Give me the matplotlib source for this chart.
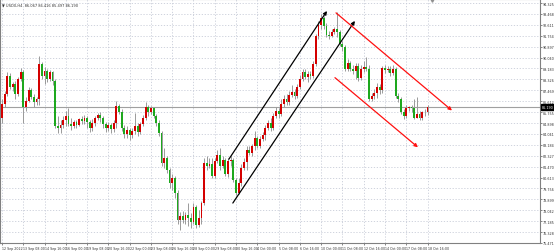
import matplotlib
matplotlib.use("Agg")
import matplotlib.pyplot as plt

# H4 candles, prices
closes = [86.43, 87.21, 88.62, 87.76, 87.99, 87.21, 88.38, 88.93, 86.19, 86.66,
          87.52, 86.98, 86.51, 86.82, 89.56, 88.62, 89.01, 88.38, 88.93, 88.23,
          84.63, 84.47, 84.71, 85.10, 85.41, 84.79, 84.63, 84.94, 84.71, 85.18,
          85.02, 85.26, 84.94, 84.47, 84.87, 85.26, 85.49, 85.26, 84.79, 84.47,
          84.71, 84.40, 84.87, 86.27, 85.80, 84.47, 84.00, 84.32, 83.92, 84.24,
          84.63, 84.16, 84.79, 85.26, 86.19, 85.73, 86.04, 85.41, 84.87, 84.08,
          81.74, 82.13, 81.19, 80.17, 80.56, 79.39, 77.28, 77.59, 77.28, 77.67,
          77.44, 77.12, 78.30, 76.89, 77.44, 78.61, 81.74, 81.51, 81.66, 80.72,
          81.90, 82.37, 81.51, 81.98, 80.87, 81.90, 81.98, 80.41, 79.39, 80.17,
          81.35, 81.82, 82.76, 82.52, 83.06, 83.69, 83.06, 83.61, 83.92, 84.47,
          84.87, 84.47, 85.41, 85.88, 85.57, 86.43, 86.82, 86.51, 87.13, 87.37,
          87.05, 87.76, 88.38, 88.93, 88.54, 88.77, 88.62, 89.56, 91.75, 92.61,
          93.16, 92.53, 91.82, 91.75, 92.06, 92.29, 92.06, 91.12, 90.89, 89.17,
          89.64, 89.17, 89.01, 89.40, 88.46, 89.17, 89.32, 89.17, 86.82, 87.05,
          87.29, 87.76, 87.52, 89.25, 89.09, 89.17, 88.85, 89.17, 87.05, 86.82,
          85.73, 85.41, 86.04, 86.12, 86.04, 85.33, 85.57, 85.26, 85.73, 85.80,
          86.19]
highs = [86.82, 87.45, 88.93, 88.85, 88.15, 88.23, 88.54, 89.25, 89.09, 86.98,
         87.76, 87.68, 87.21, 86.98, 90.18, 89.72, 89.32, 89.17, 89.09, 89.01,
         88.38, 85.41, 85.10, 85.41, 85.88, 86.04, 85.26, 85.10, 85.10, 85.33,
         85.41, 85.49, 85.41, 85.10, 85.18, 85.41, 85.65, 85.73, 85.41, 84.94,
         84.94, 84.87, 85.10, 86.59, 86.43, 85.96, 84.71, 84.63, 84.47, 84.47,
         85.65, 84.87, 84.94, 85.49, 86.51, 86.35, 86.27, 86.19, 85.57, 85.10,
         84.24, 82.91, 82.29, 81.35, 80.87, 80.72, 79.62, 77.91, 77.99, 77.91,
         78.61, 77.83, 78.61, 78.46, 78.07, 78.77, 82.13, 82.29, 82.13, 82.13,
         82.13, 82.76, 82.91, 82.29, 82.13, 82.13, 82.29, 82.13, 80.56, 80.56,
         81.66, 82.13, 83.06, 83.06, 83.22, 84.24, 83.84, 83.84, 84.16, 84.71,
         85.10, 85.26, 85.65, 86.19, 86.04, 86.82, 87.13, 87.21, 87.45, 87.91,
         87.60, 87.99, 88.70, 89.17, 89.17, 89.01, 89.01, 89.79, 91.90, 92.92,
         93.47, 93.31, 92.76, 92.14, 92.29, 92.45, 93.62, 92.22, 91.36, 91.04,
         89.95, 89.79, 89.48, 89.64, 89.64, 89.48, 89.79, 90.10, 89.48, 87.29,
         87.60, 88.07, 87.99, 89.40, 89.48, 89.40, 89.40, 89.48, 89.32, 87.29,
         86.98, 85.96, 86.35, 86.27, 86.35, 86.82, 86.98, 85.88, 85.88, 85.96,
         86.35]
lows = [84.87, 86.19, 87.05, 87.60, 87.45, 86.82, 87.05, 88.23, 84.87, 85.88,
        86.51, 86.82, 86.19, 86.35, 86.35, 88.38, 87.99, 88.15, 88.23, 87.91,
        84.47, 84.08, 84.08, 84.47, 84.63, 84.63, 84.32, 84.47, 84.47, 84.63,
        84.79, 84.79, 84.47, 84.16, 84.24, 84.63, 85.10, 84.94, 84.47, 84.16,
        84.24, 84.08, 84.16, 84.47, 85.57, 84.24, 83.69, 83.69, 83.53, 83.69,
        84.00, 83.84, 84.00, 84.63, 85.10, 85.41, 85.57, 85.26, 84.63, 83.84,
        81.51, 81.35, 80.96, 79.78, 79.62, 79.00, 76.97, 76.50, 77.05, 76.97,
        76.81, 76.65, 76.97, 76.65, 76.73, 76.97, 78.46, 81.19, 81.35, 80.56,
        80.56, 81.74, 81.19, 81.35, 80.72, 80.64, 81.51, 80.25, 79.23, 79.31,
        79.94, 81.19, 81.19, 82.37, 82.29, 82.76, 82.91, 82.91, 83.45, 83.53,
        84.32, 84.24, 84.32, 85.26, 85.26, 85.41, 86.19, 86.35, 86.35, 86.98,
        86.82, 86.90, 87.60, 88.23, 88.38, 88.15, 88.38, 88.46, 89.40, 91.51,
        92.29, 92.29, 91.67, 91.51, 91.67, 91.90, 91.67, 90.96, 90.57, 89.01,
        89.01, 89.01, 88.77, 88.38, 88.23, 88.30, 88.93, 89.01, 86.66, 86.59,
        86.82, 86.90, 87.21, 87.29, 88.85, 88.93, 88.62, 88.70, 86.90, 86.51,
        85.57, 85.18, 85.26, 85.88, 85.80, 85.18, 85.26, 85.10, 85.10, 85.41,
        85.49]
first_open = 85.26
opens = [first_open] + closes[:-1]

time_labels = ["12 Sep 2022", "13 Sep 08:00", "14 Sep 16:00", "16 Sep 00:00",
               "19 Sep 08:00", "20 Sep 16:00", "22 Sep 00:00", "23 Sep 08:00",
               "26 Sep 16:00", "28 Sep 00:00", "29 Sep 08:00", "30 Sep 16:00",
               "4 Oct 00:00", "5 Oct 08:00", "6 Oct 16:00", "10 Oct 00:00",
               "11 Oct 08:00", "12 Oct 16:00", "14 Oct 00:00", "17 Oct 08:00",
               "18 Oct 16:00"]
price_ticks = [94.325, 93.468, 92.611, 91.754, 90.897, 90.040, 89.183, 88.326,
               87.469, 86.612, 85.755, 84.898, 84.041, 83.184, 82.327, 81.470,
               80.613, 79.756, 78.899, 78.042, 77.185, 76.328, 75.471]

# trend lines drawn on the chart: (bar, price) start -> end
up_channel = [((85.3, 82.05), (122.2, 93.70)), ((86.8, 78.61), (132.7, 92.92))]
down_channel = [((125.6, 93.55), (169.2, 85.88)), ((125.2, 88.46), (156.4, 82.99))]

fig = plt.figure(figsize=(5.54, 2.53), dpi=100)
ax = fig.add_axes([0.0, 9 / 253, 540 / 554, 244 / 253])
ax.set_facecolor("white")

n = len(closes)
xs = list(range(n))
up_col = "#d40000"
dn_col = "#1ea81e"
for i in xs:
    o, c = opens[i], closes[i]
    col = up_col if c >= o else dn_col
    ax.vlines(i, lows[i], highs[i], color="#9a9a9a", lw=0.7, zorder=2)
    h = abs(c - o)
    if h < 0.04:
        h = 0.04
    ax.bar(i, h, bottom=min(o, c), width=0.7, color=col, lw=0, zorder=3)

# current price line
ax.axhline(closes[-1], color="#a0a0a0", lw=0.8, zorder=1)

for (x0, y0), (x1, y1) in up_channel:
    ax.annotate("", xy=(x1, y1), xytext=(x0, y0),
                arrowprops=dict(arrowstyle="-|>", color="black", lw=0.9,
                                mutation_scale=5, shrinkA=0, shrinkB=0), zorder=5)
for (x0, y0), (x1, y1) in down_channel:
    ax.annotate("", xy=(x1, y1), xytext=(x0, y0),
                arrowprops=dict(arrowstyle="-|>", color="#ff1010", lw=0.9,
                                mutation_scale=5, shrinkA=0, shrinkB=0), zorder=5)

ax.set_xlim(-0.75, 202.3)
ax.set_ylim(75.56, 94.64)

# chart shift marker at the top
ax.plot([161.7], [94.55], marker="v", ms=2.5, color="#909090", clip_on=False, zorder=6)

ax.set_xticks([8 * k for k in range(len(time_labels))])
ax.set_xticklabels(time_labels, fontsize=2.3, ha="left", color="#333333")
ax.yaxis.tick_right()
ax.set_yticks(price_ticks)
ax.set_yticklabels(["%.3f" % v for v in price_ticks], fontsize=2.4, color="#333333")
ax.tick_params(axis="both", length=1.5, width=0.5, pad=0.8, colors="#555555")
ax.tick_params(axis="both", labelcolor="#333333")
ax.grid(True, color="#c8ccd8", lw=0.6, ls=(0, (1.5, 2)))
ax.set_axisbelow(True)
for s in ax.spines.values():
    s.set_color("#808080")
    s.set_linewidth(0.8)

# price box on the right axis
ax.text(1.003, (closes[-1] - 75.56) / (94.64 - 75.56), "%.3f" % closes[-1],
        transform=ax.transAxes, fontsize=2.4, color="white", va="center",
        ha="left", bbox=dict(boxstyle="square,pad=0.2", fc="black", ec="black"))

ax.text(0.004, 0.985, "\u25bc USDX,H4  86.067 86.416 85.497 86.190",
        transform=ax.transAxes, fontsize=2.6, color="#333333", va="top", ha="left")

fig.savefig("out.png", dpi=100)
